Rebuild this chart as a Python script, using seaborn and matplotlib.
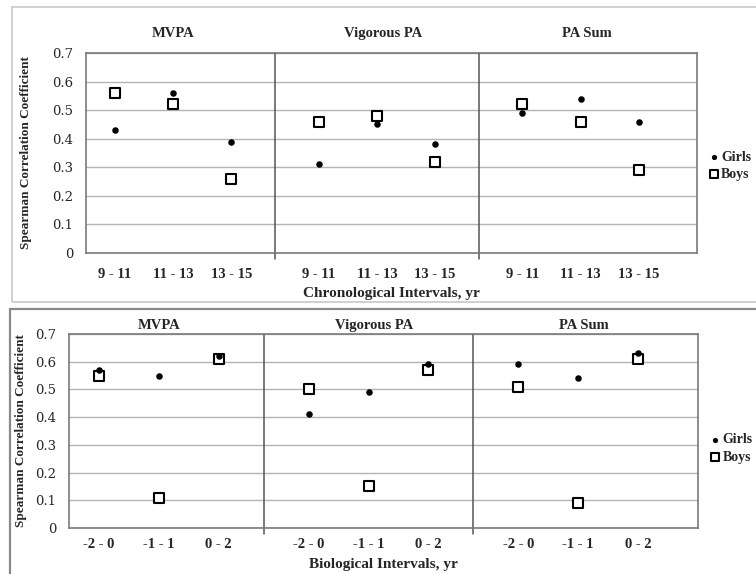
import numpy as np
import pandas as pd
import matplotlib
matplotlib.use('Agg')
import matplotlib.pyplot as plt
import seaborn as sns
from matplotlib.patches import Rectangle

# panel groups and interval labels
groups = ['MVPA', 'Vigorous PA', 'PA Sum']
chrono_labels = ['9 - 11', '11 - 13', '13 - 15']
bio_labels = ['-2 - 0', '-1 - 1', '0 - 2']

# Spearman correlation coefficients, 3 intervals per group
chrono_girls = [0.43, 0.56, 0.39, 0.31, 0.45, 0.38, 0.49, 0.54, 0.46]
chrono_boys = [0.56, 0.52, 0.26, 0.46, 0.48, 0.32, 0.52, 0.46, 0.29]
bio_girls = [0.57, 0.55, 0.62, 0.41, 0.49, 0.59, 0.59, 0.54, 0.63]
bio_boys = [0.55, 0.11, 0.61, 0.50, 0.15, 0.57, 0.51, 0.09, 0.61]

sns.set_style('white')
plt.rcParams['font.family'] = ['Liberation Serif', 'DejaVu Serif']

W, H = 756, 574
fig = plt.figure(figsize=(W / 100, H / 100), dpi=100)


def px_axes(l, t, r, b):
    return fig.add_axes([l / W, 1 - b / H, (r - l) / W, (b - t) / H])


# outer frames of the two pasted charts
fig.patches.append(Rectangle((12 / W, 1 - 302 / H), 760 / W, 295 / H, transform=fig.transFigure,
                             fill=False, edgecolor='#c8c8c8', linewidth=1.2))
fig.patches.append(Rectangle((10 / W, -0.01), 760 / W, (574 - 303) / H, transform=fig.transFigure,
                             fill=False, edgecolor='#8a8a8a', linewidth=1.6))


def build(girls, boys, labels):
    rows = []
    for g in range(3):
        for i in range(3):
            k = g * 3 + i
            x = g * 3.5 + i + 0.5
            rows.append({'x': x, 'label': labels[i], 'Girls': girls[k], 'Boys': boys[k]})
    return pd.DataFrame(rows)


def panel(ax, df, xlabel, ylabel_x, title_y, tick_pad, xlabel_pad, legend_y):
    sns.scatterplot(data=df, x='x', y='Girls', ax=ax, marker='o', s=22, color='black',
                    edgecolor='black', linewidth=0, label='Girls', zorder=4)
    sns.scatterplot(data=df, x='x', y='Boys', ax=ax, marker='s', s=44, facecolor='white',
                    edgecolor='black', linewidth=1.5, label='Boys', zorder=3)
    ax.set_xlim(0, 10.5)
    ax.set_ylim(0, 0.7)
    ax.set_yticks(np.arange(0, 0.71, 0.1))
    ax.set_yticklabels(['0'] + [f'{v:.1f}' for v in np.arange(0.1, 0.71, 0.1)],
                       family='DejaVu Serif', fontsize=9.5)
    ax.set_xticks(df['x'])
    ax.set_xticklabels(df['label'], fontweight='bold', fontsize=10.5)
    ax.tick_params(axis='both', length=0)
    ax.tick_params(axis='x', pad=tick_pad)
    ax.tick_params(axis='y', pad=9)
    ax.grid(axis='y', color='#b4b4b4', linewidth=1)
    ax.set_axisbelow(True)
    for sp in ax.spines.values():
        sp.set_color('#7a7a7a')
        sp.set_linewidth(1.2)
    for sep in [3.25, 6.75]:
        ax.axvline(sep, ymin=-0.03, ymax=1, color='#555555', linewidth=1.1, clip_on=False)
    for g in range(3):
        ax.text(g * 3.5 + 1.5 + (0.1 if g else 0), title_y, groups[g], transform=ax.get_xaxis_transform(),
                ha='center', va='bottom', fontweight='bold', fontsize=10.5)
    ax.set_xlabel(xlabel, fontweight='bold', fontsize=11, labelpad=xlabel_pad)
    ax.set_ylabel('Spearman Correlation Coefficient', fontweight='bold', fontsize=9.5)
    ax.yaxis.set_label_coords(ylabel_x, 0.5)
    ax.legend(loc='center left', bbox_to_anchor=(1.01, legend_y), frameon=False,
              handlelength=0.8, handletextpad=0.1, borderaxespad=0, labelspacing=0.3,
              markerscale=0.8, prop={'weight': 'bold', 'size': 10})


ax1 = px_axes(86, 53, 697, 253)
panel(ax1, build(chrono_girls, chrono_boys, chrono_labels), 'Chronological Intervals, yr',
      -0.088, 1.065, 11, 4, 0.435)

ax2 = px_axes(69, 334, 698, 528)
panel(ax2, build(bio_girls, bio_boys, bio_labels), 'Biological Intervals, yr',
      -0.067, 1.012, 7, 5, 0.41)

fig.savefig('out.png', dpi=100)
